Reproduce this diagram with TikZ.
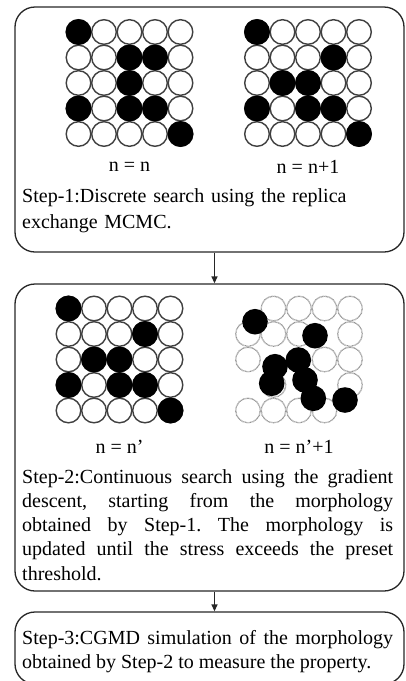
\documentclass[tikz,border=0pt]{standalone}
\usepackage{fontspec}
\setmainfont{Liberation Serif}
\usetikzlibrary{arrows.meta}
\frenchspacing

\tikzset{
  stepbox/.style={draw=black!85, line width=1.3pt, rounded corners=20pt},
  link/.style={draw=black!85, line width=1.3pt, -{Triangle[length=7pt,width=6pt]}},
  wball/.style={draw=black!75, line width=1.4pt, fill=white},
  gball/.style={draw=gray!85, line width=1.3pt, dash pattern=on 0.7pt off 0.6pt, fill=white},
  nlabel/.style={inner sep=0pt, font=\fontsize{20}{24}\selectfont},
  steptext/.style={inner sep=0pt, anchor=base west, text width=371pt,
    font=\fontsize{20}{24.3}\selectfont}
}

% 5x5 balls, #3 = black ones as col/row
\newcommand{\ballgrid}[3]{
  \foreach \c in {0,...,4}
    \foreach \r in {0,...,4}
      \draw[wball] (#1+25.5*\c, #2+25.5*\r) circle (12.3pt);
  \foreach \c/\r in {#3}
    \fill (#1+25.5*\c, #2+25.5*\r) circle (12.9pt);
}

\begin{document}
\begin{tikzpicture}[x=1pt,y=-1pt]
\useasboundingbox (0,0) rectangle (406,681);

\node[stepbox, minimum width=389pt, minimum height=245pt] (box1) at (209.5,129.5) {};
\node[stepbox, minimum width=389pt, minimum height=307pt] (box2) at (209.5,437.5) {};
\node[stepbox, minimum width=389pt, minimum height=72pt] (box3) at (209.5,648) {};

\draw[link] ([xshift=5pt]box1.south) -- ([xshift=5pt]box2.north);
\draw[link] ([xshift=5pt]box2.south) -- ([xshift=5pt]box3.north);

\ballgrid{78.5}{32}{0/0, 2/1, 3/1, 2/2, 0/3, 2/3, 3/3, 4/4}
\ballgrid{257}{32}{0/0, 3/1, 1/2, 2/2, 0/3, 2/3, 3/3, 4/4}
\ballgrid{68.5}{308.5}{0/0, 3/1, 1/2, 2/2, 0/3, 2/3, 3/3, 4/4}

% relaxed morphology
\foreach \c/\r in {1/0,2/0,3/0,4/0, 0/1,1/1,2/1,4/1, 0/2,3/2,4/2, 1/3,4/3, 0/4,1/4,2/4,3/4}
  \draw[gball] (248+25.5*\c, 308.5+25.5*\r) circle (12.3pt);
\foreach \p in {(255,321.7),(315,335.7),(298.3,360),(275,366.7),(271.7,383.3),(305,380),(313.3,398.3),(345,400)}
  \fill \p circle (12.8pt);

\node[nlabel] (lab1) at (129.5,167) {n = n};
\node[nlabel] (lab2) at (308,167) {n = n+1};
\node[nlabel] (lab3) at (119.5,447) {n = n’};
\node[nlabel] (lab4) at (299,447) {n = n’+1};

\node[steptext, align=left, font=\fontsize{20}{26.5}\selectfont] (txt1) at (22,202)
  {Step-1:Discrete search using the replica\\exchange MCMC.};
\node[steptext, align=justify] (txt2) at (22,483)
  {Step-2:Continuous search using the gradient\linebreak
   descent, starting from the morphology\linebreak
   obtained by Step-1. The morphology is\linebreak
   updated until the stress exceeds the preset\linebreak
   threshold.};
\node[steptext, align=justify] (txt3) at (22,644)
  {Step-3:CGMD simulation of the morphology\linebreak
   obtained by Step-2 to measure the property.};
\end{tikzpicture}
\end{document}
